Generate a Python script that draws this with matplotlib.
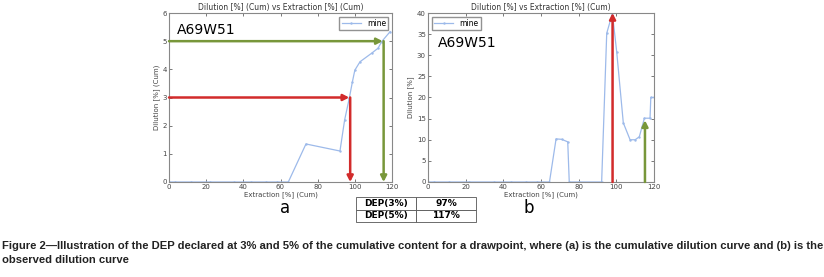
import matplotlib
matplotlib.use("Agg")
import matplotlib.pyplot as plt
from matplotlib import font_manager

# cumulative dilution (a)
cumX=[0,3,12,22,35,44,52,58,64.2,73.7,92,94.5,97,98.7,100,102.8,109,112.5,114.4,119]
cumY=[0,0,0,0,0,0,0,0,0,1.35,1.1,2.2,2.97,3.56,3.97,4.27,4.57,4.75,4.98,5.34]

# observed dilution (b)
obsX=[0,3,11,22,35,44,52,58,64.5,68,71,74.2,75,80,92.2,94.9,97.9,100.2,103.7,107.3,110,112.2,114.9,117.9,118.3,120]
obsY=[0,0,0,0,0,0,0,0,0,10.2,10.1,9.5,0,0,0,35.2,39.9,30.8,14,10,10,10.7,15.1,15.1,20,20]

dep3=97
dep5=115
tableRows=[["DEP(3%)","97%"],["DEP(5%)","117%"]]
caption=("Figure 2\u2014Illustration of the DEP declared at 3% and 5% of the cumulative content for a drawpoint, where (a) is the cumulative dilution curve and (b) is the\n"
         "observed dilution curve")

xRed='#d22b2b'
xGreen='#78973a'
xLine='#9dbaea'

names={f.name for f in font_manager.fontManager.ttflist}
capFont='Liberation Sans Narrow' if 'Liberation Sans Narrow' in names else 'Liberation Sans'

plt.rc('font',family='DejaVu Sans')
fig=plt.figure(figsize=(8.24,2.77),dpi=100)

def styleAxes(ax,ylabel,ymax,ystep):
    ax.set_xlim(0,120)
    ax.set_ylim(0,ymax)
    ax.set_xticks(range(0,121,20))
    ax.set_yticks(range(0,ymax+1,ystep))
    ax.tick_params(direction='in',top=True,right=True,labelsize=5,length=2,width=0.5,pad=1.5,colors='#444444')
    for s in ax.spines.values():
        s.set_color('#888888')
        s.set_linewidth(0.8)
    ax.set_title("Dilution [%] (Cum) vs Extraction [%] (Cum)" if ymax==6 else "Dilution [%] vs Extraction [%] (Cum)",fontsize=5.5,pad=2,color='#333333')
    ax.set_xlabel("Extraction [%] (Cum)",fontsize=5,labelpad=0.5,color='#444444')
    ax.set_ylabel(ylabel,fontsize=5,labelpad=2,color='#444444')

arrowKw=dict(arrowstyle='-|>,head_length=0.35,head_width=0.18',lw=1.8,shrinkA=0,shrinkB=0)

# (a)
axA=fig.add_axes([169/824,95/277,223/824,169/277])
axA.plot(cumX,cumY,color=xLine,lw=0.9,marker='.',ms=1.5,label='mine')
styleAxes(axA,"Dilution [%] (Cum)",6,1)
axA.legend(loc='upper right',fontsize=5.5,handlelength=2.5,borderpad=0.3,fancybox=False,edgecolor='#777777')
axA.text(4,5.4,"A69W51",fontsize=10,va='center')
axA.annotate("",xy=(dep3,3),xytext=(0,3),arrowprops=dict(color=xRed,**arrowKw))
axA.annotate("",xy=(dep3+0.5,0),xytext=(dep3+0.5,3),arrowprops=dict(color=xRed,**arrowKw))
axA.annotate("",xy=(dep5,5),xytext=(0,5),arrowprops=dict(color=xGreen,**arrowKw))
axA.annotate("",xy=(dep5+0.5,0),xytext=(dep5+0.5,5),arrowprops=dict(color=xGreen,**arrowKw))

# (b)
axB=fig.add_axes([428/824,95/277,226/824,169/277])
axB.plot(obsX,obsY,color=xLine,lw=0.9,marker='.',ms=1.5,label='mine')
styleAxes(axB,"Dilution [%]",40,5)
axB.legend(loc='upper left',fontsize=5.5,handlelength=2.5,borderpad=0.3,fancybox=False,edgecolor='#777777')
axB.text(5,33,"A69W51",fontsize=10,va='center')
axB.annotate("",xy=(98,40),xytext=(98,0),arrowprops=dict(color=xRed,**arrowKw))
axB.annotate("",xy=(115.2,14.6),xytext=(115.2,0),arrowprops=dict(color=xGreen,**arrowKw))

fig.text(285/824,1-208/277,"a",fontsize=12,ha='center',va='center')
fig.text(529/824,1-208/277,"b",fontsize=12,ha='center',va='center')

axT=fig.add_axes([356/824,(277-222)/277,120/824,25/277])
axT.axis('off')
tab=axT.table(cellText=tableRows,bbox=[0,0,1,1],cellLoc='center')
tab.auto_set_font_size(False)
for (r,c),cell in tab.get_celld().items():
    cell.set_linewidth(0.6)
    cell.set_edgecolor('#555555')
    cell.get_text().set_fontsize(6.5)
    cell.get_text().set_fontweight('bold')

fig.text(0.002,1-241/277,caption,fontsize=8.1,fontweight='bold',family=[capFont,'DejaVu Sans'],
         va='top',ha='left',linespacing=1.45,color='#222222')

fig.savefig("out.png",dpi=100)
